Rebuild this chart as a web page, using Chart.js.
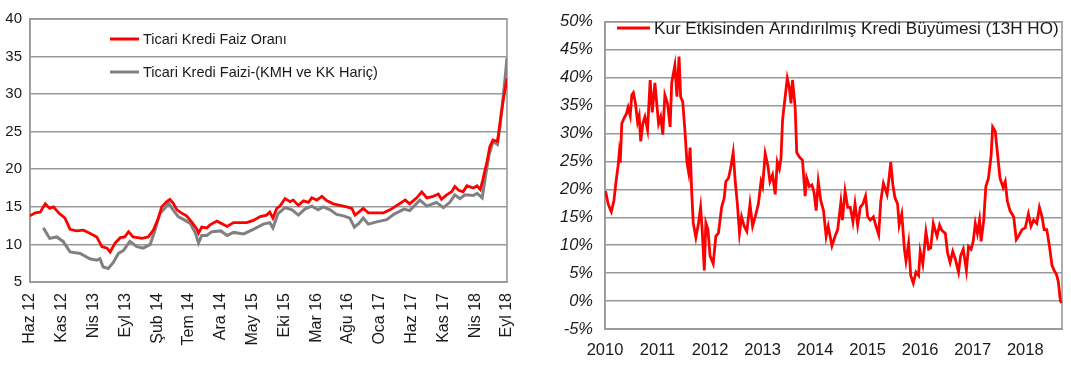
<!DOCTYPE html>
<html>
<head>
<meta charset="utf-8">
<script src="https://cdn.jsdelivr.net/npm/chart.js@4/dist/chart.umd.min.js"></script>
<style>
  html, body { margin: 0; padding: 0; background: #fff; }
  #wrap { position: relative; width: 1071px; height: 366px; }
  canvas { position: absolute; top: 0; }
  #c1 { left: 0; }
  #c2 { left: 540px; }
</style>
</head>
<body>
<div id="wrap">
  <canvas id="c1" width="540" height="366"></canvas>
  <canvas id="c2" width="531" height="366"></canvas>
</div>
<script>
// ---------- LEFT CHART DATA (x = months since Haz 12) ----------
const leftTickLabels = ["Haz 12","Kas 12","Nis 13","Eyl 13","Şub 14","Tem 14","Ara 14","May 15","Eki 15","Mar 16","Ağu 16","Oca 17","Haz 17","Kas 17","Nis 18","Eyl 18"];
const leftSeriesNames = ["Ticari Kredi Faiz Oranı", "Ticari Kredi Faizi-(KMH ve KK Hariç)"];
const ticariKrediFaiz = [
  [0,13.8],[0.8,14.2],[1.6,14.3],[2.4,15.4],[3.1,14.8],[3.7,15.0],[4.5,14.2],[5.5,13.5],[6.3,12.0],[7.3,11.8],
  [8.4,11.9],[9.4,11.5],[10.5,11.0],[11.3,9.7],[12.1,9.5],[12.6,9.0],[13.4,10.2],[14.2,10.9],[14.9,11.0],[15.5,11.7],
  [16.2,11.0],[17.6,10.8],[18.6,11.0],[19.4,11.9],[20.2,13.5],[20.7,15.0],[21.5,15.7],[22.0,16.0],[22.5,15.5],[23.1,14.6],
  [23.8,14.2],[24.6,13.8],[25.4,13.0],[26.2,12.1],[26.5,11.5],[27.0,12.3],[27.8,12.2],[28.3,12.6],[29.4,13.1],[31.0,12.4],
  [32.0,12.9],[33.0,12.9],[34.1,12.9],[35.1,13.2],[36.2,13.7],[37.2,13.9],[37.7,14.3],[38.2,13.5],[38.8,14.8],[39.3,15.1],
  [40.1,16.1],[40.9,15.7],[41.4,15.9],[42.2,15.2],[43.0,15.8],[43.8,15.6],[44.3,16.2],[45.1,15.9],[45.9,16.4],[46.7,15.8],
  [47.7,15.4],[48.7,15.2],[49.8,15.0],[50.6,14.8],[51.1,13.9],[51.7,14.3],[52.4,14.8],[53.2,14.2],[54.0,14.2],[55.6,14.2],
  [56.6,14.6],[57.7,15.2],[59.0,15.9],[59.7,15.4],[60.8,16.2],[61.6,17.0],[62.4,16.2],[63.4,16.4],[64.2,16.7],[64.7,16.0],
  [65.5,16.6],[66.3,17.0],[66.8,17.7],[67.4,17.2],[68.1,17.0],[68.7,17.8],[69.7,17.5],[70.3,17.8],[70.8,17.3],[71.2,18.6],
  [71.9,21.2],[72.3,23.0],[72.8,23.9],[73.5,23.7],[73.9,26.2],[74.4,29.2],[75,32.1]
];
const ticariKrediFaiziHaric = [
  [2.1,12.2],[3.1,10.8],[4.2,11.0],[5.2,10.4],[6.3,9.0],[7.9,8.8],[9.4,8.1],[10.5,7.9],[11.0,8.1],[11.5,7.0],
  [12.3,6.8],[13.1,7.6],[13.9,8.8],[14.7,9.2],[15.7,10.4],[16.8,9.7],[17.8,9.5],[18.9,10.0],[19.7,12.0],[20.4,14.1],
  [21.2,14.8],[21.8,15.5],[22.5,14.6],[23.3,13.7],[24.4,13.2],[25.2,12.8],[26.0,11.5],[26.5,10.2],[27.0,11.2],[27.8,11.2],
  [28.6,11.7],[30.0,11.8],[31.0,11.2],[32.0,11.6],[33.6,11.4],[35.1,12.0],[36.7,12.7],[37.7,12.9],[38.2,12.2],[39.0,14.1],
  [40.1,14.9],[41.2,14.6],[42.2,13.9],[43.2,14.7],[44.3,15.1],[45.3,14.6],[46.1,15.0],[47.2,14.6],[48.2,14.0],[49.3,13.8],
  [50.3,13.5],[51.0,12.3],[51.7,12.8],[52.4,13.5],[53.2,12.7],[54.5,13.0],[56.1,13.3],[57.2,14.0],[58.8,14.7],[59.7,14.5],
  [61.3,15.9],[62.4,15.1],[63.9,15.6],[65.0,14.9],[66.0,15.6],[66.8,16.6],[67.6,16.1],[68.4,16.6],[69.7,16.5],[70.3,16.8],
  [71.1,16.2],[71.7,19.5],[72.2,22.0],[72.8,23.7],[73.5,23.3],[73.9,25.7],[74.4,29.6],[75,34.8]
];

// ---------- RIGHT CHART DATA (x = decimal year, y = %) ----------
const rightYearLabels = ["2010","2011","2012","2013","2014","2015","2016","2017","2018"];
const rightSeriesName = "Kur Etkisinden Arındırılmış Kredi Büyümesi (13H HO)";
const krediBuyumesi = [
  [2010.01,19.7],[2010.06,17.4],[2010.10,16.4],[2010.12,16.0],[2010.17,18.0],[2010.21,21.4],[2010.25,24.3],[2010.27,26.4],[2010.29,24.8],[2010.32,31.8],
  [2010.36,32.7],[2010.41,33.6],[2010.44,34.7],[2010.48,33.2],[2010.51,36.9],[2010.54,37.3],[2010.58,35.4],[2010.62,32.1],[2010.65,33.2],[2010.68,28.6],
  [2010.72,31.8],[2010.76,33.0],[2010.81,30.7],[2010.86,39.6],[2010.90,33.8],[2010.95,39.1],[2011.02,31.8],[2011.06,33.0],[2011.10,29.8],[2011.14,36.9],
  [2011.19,35.4],[2011.24,31.2],[2011.27,39.1],[2011.33,42.2],[2011.37,36.6],[2011.41,43.8],[2011.44,36.6],[2011.48,35.7],[2011.52,30.7],[2011.56,24.9],
  [2011.59,23.2],[2011.62,27.5],[2011.65,19.7],[2011.68,14.0],[2011.73,11.4],[2011.78,14.0],[2011.82,16.8],[2011.85,12.8],[2011.89,5.5],[2011.92,14.0],
  [2011.96,12.8],[2012.00,8.1],[2012.06,6.7],[2012.11,11.6],[2012.16,12.2],[2012.22,16.8],[2012.27,18.5],[2012.30,21.4],[2012.35,22.0],[2012.39,23.7],
  [2012.44,26.6],[2012.48,21.4],[2012.52,17.4],[2012.56,12.2],[2012.60,15.1],[2012.65,13.4],[2012.70,12.5],[2012.76,17.4],[2012.81,13.4],[2012.86,15.1],
  [2012.92,17.4],[2012.97,21.4],[2013.00,20.5],[2013.05,26.4],[2013.10,24.3],[2013.14,21.4],[2013.19,22.6],[2013.24,19.1],[2013.28,24.9],[2013.32,23.7],
  [2013.35,25.5],[2013.38,32.4],[2013.43,36.6],[2013.47,39.9],[2013.51,38.2],[2013.54,35.4],[2013.57,39.6],[2013.62,34.7],[2013.65,26.6],[2013.70,25.8],
  [2013.76,25.2],[2013.81,18.8],[2013.84,22.0],[2013.89,20.5],[2013.94,20.8],[2013.98,19.4],[2014.02,16.2],[2014.06,21.4],[2014.11,17.9],[2014.16,16.2],
  [2014.21,11.6],[2014.25,13.4],[2014.32,9.9],[2014.38,11.6],[2014.43,12.8],[2014.49,17.7],[2014.52,14.5],[2014.57,19.7],[2014.62,16.8],[2014.67,16.8],
  [2014.72,14.2],[2014.76,17.4],[2014.81,13.6],[2014.86,16.8],[2014.91,17.4],[2014.96,18.8],[2015.00,15.1],[2015.05,14.5],[2015.11,15.1],[2015.16,13.4],
  [2015.21,11.9],[2015.25,17.9],[2015.30,21.1],[2015.37,19.1],[2015.40,21.4],[2015.44,24.9],[2015.48,20.8],[2015.52,18.5],[2015.57,17.4],[2015.60,13.6],
  [2015.65,15.6],[2015.70,9.3],[2015.73,7.2],[2015.78,10.4],[2015.82,4.6],[2015.87,3.2],[2015.92,5.2],[2015.97,4.6],[2016.00,8.9],[2016.05,6.6],
  [2016.11,12.4],[2016.16,9.3],[2016.20,9.5],[2016.25,13.9],[2016.32,11.6],[2016.37,13.6],[2016.41,12.7],[2016.48,12.1],[2016.52,8.7],[2016.57,6.9],
  [2016.62,8.9],[2016.67,7.5],[2016.73,5.2],[2016.77,8.1],[2016.82,9.3],[2016.88,5.5],[2016.92,9.8],[2016.97,9.3],[2017.01,10.7],[2017.05,13.9],
  [2017.09,12.1],[2017.13,14.5],[2017.16,10.7],[2017.21,14.5],[2017.25,20.5],[2017.30,22.0],[2017.35,26.0],[2017.38,31.2],[2017.43,30.4],[2017.47,26.6],
  [2017.52,22.0],[2017.58,20.3],[2017.62,21.4],[2017.66,17.9],[2017.71,16.2],[2017.78,15.1],[2017.83,11.0],[2017.87,11.6],[2017.94,12.8],[2018.00,13.1],
  [2018.06,15.6],[2018.11,13.4],[2018.16,14.5],[2018.22,13.9],[2018.27,16.8],[2018.32,15.1],[2018.36,12.8],[2018.41,12.8],[2018.46,9.9],[2018.51,6.4],
  [2018.55,5.5],[2018.59,4.9],[2018.63,3.5],[2018.67,0.0],[2018.70,-0.3]
];

// ---------- helpers ----------
const FONT = '"Liberation Sans", Arial, Helvetica, sans-serif';
const TEXT = '#1a1a1a';
const GRID = '#999999';
const toPts = arr => arr.map(p => ({x: p[0], y: p[1]}));

const framePlugin = {
  id: 'frame',
  beforeDatasetsDraw(chart) {
    const a = chart.chartArea, ctx = chart.ctx;
    ctx.save();
    ctx.strokeStyle = GRID;
    ctx.lineWidth = 1.6;
    ctx.strokeRect(a.left, a.top, a.right - a.left, a.bottom - a.top);
    ctx.restore();
  }
};

// legend drawn inside the plot area
function makeLegend(id, entries) {
  return {
    id,
    afterDraw(chart) {
      const ctx = chart.ctx;
      ctx.save();
      entries.forEach(e => {
        const ds = chart.data.datasets[e.ds];
        ctx.strokeStyle = ds.borderColor;
        ctx.lineWidth = 3;
        ctx.beginPath();
        ctx.moveTo(e.x0, e.y);
        ctx.lineTo(e.x1, e.y);
        ctx.stroke();
        let size = e.size;
        ctx.font = size + 'px ' + FONT;
        if (e.fitWidth) {
          const w = ctx.measureText(ds.label).width;
          size = size * e.fitWidth / w;
          ctx.font = size + 'px ' + FONT;
        }
        ctx.fillStyle = TEXT;
        ctx.textBaseline = 'middle';
        ctx.textAlign = 'left';
        ctx.fillText(ds.label, e.tx, e.y + 1);
      });
      ctx.restore();
    }
  };
}

// ---------- LEFT CHART ----------
new Chart(document.getElementById('c1'), {
  type: 'line',
  data: {
    datasets: [
      { label: leftSeriesNames[0], data: toPts(ticariKrediFaiz), borderColor: '#ff0000', borderWidth: 2.8, pointRadius: 0, tension: 0, order: 1 },
      { label: leftSeriesNames[1], data: toPts(ticariKrediFaiziHaric), borderColor: '#808080', borderWidth: 3, pointRadius: 0, tension: 0, order: 2 }
    ]
  },
  options: {
    responsive: false,
    animation: false,
    layout: { padding: { top: 19, right: 33, left: 0, bottom: 0 } },
    plugins: { legend: { display: false }, tooltip: { enabled: false } },
    scales: {
      x: {
        type: 'linear', min: 0, max: 75,
        afterBuildTicks: s => { s.ticks = leftTickLabels.map((_, i) => ({ value: i * 5 })); },
        ticks: {
          autoSkip: false, maxRotation: 90, minRotation: 90, padding: 11,
          color: TEXT, font: { family: FONT, size: 16 },
          callback: v => leftTickLabels[Math.round(v / 5)]
        },
        grid: { display: false, drawTicks: false },
        border: { display: true, color: GRID, width: 1.6 },
        afterFit: s => { s.height = 84; }
      },
      y: {
        min: 5, max: 40,
        ticks: { stepSize: 5, padding: 8, color: TEXT, font: { family: FONT, size: 15 } },
        grid: { color: GRID, lineWidth: 1.6, drawTicks: false },
        border: { display: true, color: GRID, width: 1.6 },
        afterFit: s => { s.width = 30; }
      }
    }
  },
  plugins: [framePlugin, makeLegend('leg1', [
    { ds: 0, x0: 110, x1: 139, y: 39, tx: 143, size: 14.5, fitWidth: 144 },
    { ds: 1, x0: 110, x1: 139, y: 72, tx: 143, size: 14.5, fitWidth: 235 }
  ])]
});

// ---------- RIGHT CHART ----------
new Chart(document.getElementById('c2'), {
  type: 'line',
  data: {
    datasets: [
      { label: rightSeriesName, data: toPts(krediBuyumesi), borderColor: '#ff0000', borderWidth: 2.8, pointRadius: 0, tension: 0 }
    ]
  },
  options: {
    responsive: false,
    animation: false,
    layout: { padding: { top: 12, right: 9, left: 0, bottom: 0 } },
    plugins: { legend: { display: false }, tooltip: { enabled: false } },
    scales: {
      x: {
        type: 'linear', min: 2010, max: 2018.7,
        afterBuildTicks: s => { s.ticks = rightYearLabels.map(l => ({ value: Number(l) })); },
        ticks: {
          autoSkip: false, maxRotation: 0, minRotation: 0, padding: 12,
          color: TEXT, font: { family: FONT, size: 16.5 },
          callback: v => rightYearLabels[Math.round(v - 2010)]
        },
        grid: { display: false, drawTicks: false },
        border: { display: true, color: GRID, width: 1.6 },
        afterFit: s => { s.height = 37; }
      },
      y: {
        min: -5, max: 50,
        ticks: { stepSize: 5, padding: 12, color: TEXT, font: { family: FONT, size: 16.5, style: 'italic' },
                 callback: v => v + '%' },
        grid: { color: GRID, lineWidth: 1.6, drawTicks: false },
        border: { display: true, color: GRID, width: 1.6 },
        afterFit: s => { s.width = 65; }
      }
    }
  },
  plugins: [framePlugin, makeLegend('leg2', [
    { ds: 0, x0: 77, x1: 110, y: 28, tx: 114, size: 16, fitWidth: 405 }
  ])]
});
</script>
</body>
</html>
